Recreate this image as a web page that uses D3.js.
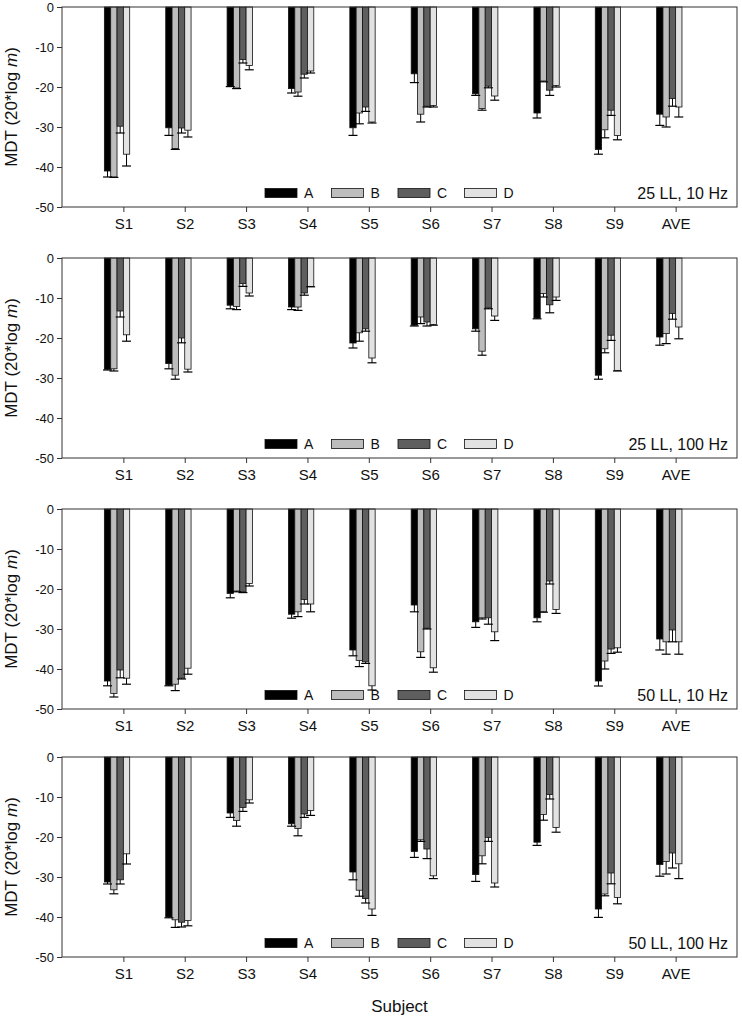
<!DOCTYPE html>
<html><head><meta charset="utf-8">
<script src="https://cdn.jsdelivr.net/npm/d3@7"></script>
<style>
body{margin:0;background:#fff;}
svg text{font-family:Arial,"Liberation Sans",sans-serif;}
svg text.narrow{font-family:"Liberation Sans Narrow","Arial Narrow",Arial,sans-serif;}
</style></head>
<body><svg id="c" width="742" height="1018"></svg>
<script>
const categories = ["S1","S2","S3","S4","S5","S6","S7","S8","S9","AVE"];
const seriesNames = ["A","B","C","D"];
const yTicks = [0,-10,-20,-30,-40,-50];
const panelTitles = ["25 LL, 10 Hz","25 LL, 100 Hz","50 LL, 10 Hz","50 LL, 100 Hz"];

// means per series (A,B,C,D) for each panel
const p1Means = [
  [-41.0,-30.2,-19.8,-20.4,-30.2,-16.7,-21.7,-26.5,-35.6,-26.8],
  [-42.5,-35.4,-20.25,-21.25,-26.5,-26.8,-25.4,-18.5,-30.7,-27.5],
  [-29.8,-30.25,-13.1,-16.8,-25.0,-24.8,-19.8,-20.8,-25.8,-22.9],
  [-36.8,-30.8,-14.6,-16.0,-28.75,-24.6,-22.25,-19.6,-32.1,-25.0]
];
const p1Errs = [
  [1.5,1.9,0.1,1.1,1.9,2.2,0.4,1.25,1.2,2.8],
  [0.1,0.2,0.15,1.05,2.7,1.95,0.4,0.2,2.0,2.5],
  [1.7,1.25,0.9,0.95,1.1,0.2,0.4,1.3,1.3,1.9],
  [2.95,1.7,1.1,0.5,0.25,0.4,1.05,0.4,1.1,2.5]
];
const p2Means = [
  [-27.8,-26.4,-11.8,-12.25,-21.25,-16.8,-17.7,-15.0,-29.3,-19.75],
  [-27.7,-29.3,-12.1,-12.25,-18.7,-14.75,-23.3,-8.9,-22.7,-18.9],
  [-13.25,-20.0,-6.4,-8.75,-17.7,-16.0,-12.5,-11.7,-19.3,-13.9],
  [-19.2,-27.8,-8.75,-7.1,-25.0,-16.6,-14.5,-9.75,-28.1,-17.25]
];
const p2Errs = [
  [0.2,1.3,0.9,0.65,1.25,0.2,0.6,0.2,1.0,2.05],
  [0.55,1.0,0.8,0.85,2.1,1.65,1.0,0.85,1.0,2.5],
  [1.5,1.2,0.7,0.55,0.6,1.0,0.2,2.0,1.3,1.4],
  [1.6,0.7,0.75,0.1,1.2,0.2,1.1,0.85,0.15,2.95]
];
const p3Means = [
  [-43.0,-44.0,-21.1,-26.3,-35.25,-24.0,-28.2,-27.2,-43.0,-32.5],
  [-46.1,-43.8,-20.5,-25.7,-37.9,-35.7,-27.2,-25.7,-38.0,-33.2],
  [-40.25,-42.3,-20.7,-22.6,-38.2,-29.8,-27.2,-18.0,-35.0,-30.25],
  [-42.3,-39.8,-18.6,-23.75,-44.2,-39.7,-30.7,-25.1,-34.7,-33.2]
];
const p3Errs = [
  [1.2,0.2,1.1,1.0,1.45,1.7,1.4,1.0,1.25,2.75],
  [0.9,1.6,0.2,1.2,1.5,1.4,0.3,0.1,2.0,3.1],
  [1.95,0.2,0.2,1.15,0.4,0.2,1.6,0.75,1.1,2.95],
  [1.5,1.5,0.65,1.95,1.05,1.1,2.2,1.0,1.1,3.1]
];
const p4Means = [
  [-31.25,-40.0,-14.0,-16.7,-28.75,-23.6,-29.4,-21.3,-38.0,-26.9],
  [-33.2,-40.7,-15.9,-17.9,-33.3,-20.7,-24.7,-14.4,-34.25,-26.1],
  [-30.7,-41.3,-12.6,-14.25,-35.4,-23.0,-20.1,-9.4,-29.0,-24.0],
  [-24.2,-40.9,-10.7,-13.4,-38.0,-29.7,-31.5,-17.6,-35.1,-26.7]
];
const p4Errs = [
  [0.5,0.2,1.1,0.6,1.95,1.5,1.7,0.8,2.1,2.9],
  [1.0,1.9,1.4,1.8,1.5,0.4,2.0,1.4,0.45,3.15],
  [1.05,1.2,1.0,0.85,1.1,2.4,1.0,1.1,2.7,3.75],
  [2.55,1.3,0.8,1.2,1.6,0.7,1.0,1.2,1.6,3.7]
];

const panels = [
  {title: panelTitles[0], means: p1Means, errs: p1Errs},
  {title: panelTitles[1], means: p2Means, errs: p2Errs},
  {title: panelTitles[2], means: p3Means, errs: p3Errs},
  {title: panelTitles[3], means: p4Means, errs: p4Errs}
];

const colors = ["#000000","#bdbdbd","#5e5e5e","#e2e2e2"];
const panelTops = [7, 258, 509, 757];
const plotH = 200, left = 62, right = 737;

const svg = d3.select("#c");
const x = d3.scaleLinear().domain([0, categories.length + 1]).range([left, right]);
const inner = d3.scaleBand().domain(["A","B","C","D","E","F"]).range([-19, 19]);

panels.forEach((p, pi) => {
  const top = panelTops[pi];
  const y = d3.scaleLinear().domain([0, -50]).range([top, top + plotH]);
  const g = svg.append("g");

  // bars
  p.means.forEach((vals, si) => {
    const s = seriesNames[si];
    g.selectAll(null).data(vals).enter().append("rect")
      .attr("x", (d, i) => x(i + 1) + inner(s))
      .attr("y", y(0))
      .attr("width", inner.bandwidth())
      .attr("height", d => y(d) - y(0))
      .attr("fill", colors[si])
      .attr("stroke", "#111").attr("stroke-width", 0.8);
  });
  // error bars
  p.means.forEach((vals, si) => {
    const s = seriesNames[si];
    const errs = p.errs[si];
    vals.forEach((d, i) => {
      const cx = x(i + 1) + inner(s) + inner.bandwidth() / 2;
      const y1 = y(d), y2 = y(d - errs[i]);
      g.append("line").attr("x1", cx).attr("x2", cx).attr("y1", y1).attr("y2", y2)
        .attr("stroke", "#000").attr("stroke-width", 1);
      g.append("line").attr("x1", cx - 4.5).attr("x2", cx + 4.5).attr("y1", y2).attr("y2", y2)
        .attr("stroke", "#000").attr("stroke-width", 1.2);
    });
  });

  // frame
  g.append("rect").attr("x", left).attr("y", top).attr("width", right - left).attr("height", plotH)
    .attr("fill", "none").attr("stroke", "#333").attr("stroke-width", 1);

  // y axis
  const ya = g.append("g").attr("transform", `translate(${left},0)`)
    .call(d3.axisLeft(y).tickValues(yTicks).tickSize(5).tickSizeOuter(0).tickFormat(d3.format("d")));
  ya.select(".domain").remove();
  ya.selectAll("line").attr("stroke", "#333");
  ya.selectAll("text").attr("font-size", 13).attr("fill", "#111").attr("x", -8)
    .text(d => d === 0 ? "0" : "-" + Math.abs(d));

  // x axis
  const xa = g.append("g").attr("transform", `translate(0,${top + plotH})`)
    .call(d3.axisBottom(x).tickValues(d3.range(1, categories.length + 1)).tickSize(5).tickSizeOuter(0)
      .tickFormat(d => categories[d - 1]));
  xa.select(".domain").remove();
  xa.selectAll("line").attr("stroke", "#333");
  xa.selectAll("text").attr("class", "narrow").attr("font-size", 15).attr("fill", "#111").attr("y", 11);

  // y title
  const yt = g.append("text").attr("transform", `translate(17,${top + 100}) rotate(-90)`)
    .attr("text-anchor", "middle").attr("font-size", 17).attr("fill", "#111");
  yt.append("tspan").text("MDT (20*log ");
  yt.append("tspan").attr("font-style", "italic").text("m");
  yt.append("tspan").text(")");

  // legend
  seriesNames.forEach((s, si) => {
    const lx = 265 + si * 66.5;
    g.append("rect").attr("x", lx).attr("y", top + 181.5).attr("width", 32).attr("height", 9)
      .attr("fill", colors[si]).attr("stroke", "#111").attr("stroke-width", 0.8);
    g.append("text").attr("x", lx + 39).attr("y", top + 191).attr("font-size", 14).attr("fill", "#111").text(s);
  });

  // panel label
  g.append("text").attr("x", 728).attr("y", top + 192).attr("text-anchor", "end")
    .attr("font-size", 16).attr("fill", "#111").text(p.title);
});

svg.append("text").attr("class", "narrow").attr("x", (left + right) / 2).attr("y", 1012).attr("text-anchor", "middle")
  .attr("font-size", 17).attr("fill", "#111").text("Subject");
</script></body></html>
